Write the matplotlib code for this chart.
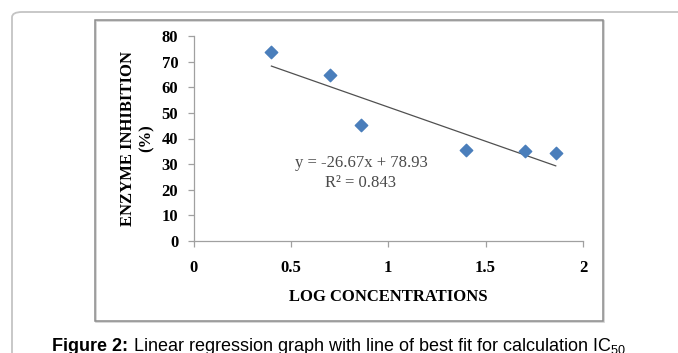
import numpy as np
import matplotlib.pyplot as plt
from matplotlib.patches import FancyBboxPatch, Rectangle

plt.rcParams['mathtext.fontset'] = 'custom'
plt.rcParams['mathtext.rm'] = 'Liberation Sans'

# data
log_conc = [0.40, 0.70, 0.86, 1.40, 1.70, 1.86]
inhibition = [73.6, 64.8, 45.4, 35.5, 35.1, 34.5]
slope = -26.67
intercept = 78.93
r2 = 0.843
x_ticks = [0, 0.5, 1, 1.5, 2]
x_tick_labels = ['0', '0.5', '1', '1.5', '2']
y_ticks = [0, 10, 20, 30, 40, 50, 60, 70, 80]

W, H = 678, 353
fig = plt.figure(figsize=(W / 100, H / 100), dpi=100)

# outer rounded frame of the page
frame = FancyBboxPatch((12 / W, -0.2), 1.2, (H - 12) / H + 0.2,
                       boxstyle='round,pad=0,rounding_size=0.015',
                       transform=fig.transFigure, fill=False,
                       edgecolor='#c4c4c4', linewidth=1.3)
fig.patches.append(frame)

# inner chart box (with a faint shadow line)
shadow = Rectangle((96 / W, (H - 322) / H), (603 - 95) / W, (321 - 20) / H,
                   transform=fig.transFigure, fill=False,
                   edgecolor='#d0d0d0', linewidth=1.2)
fig.patches.append(shadow)
box = Rectangle((95 / W, (H - 321) / H), (603 - 95) / W, (321 - 20) / H,
                transform=fig.transFigure, fill=False,
                edgecolor='#8c8c8c', linewidth=1.1)
fig.patches.append(box)

ax = fig.add_axes([193.5 / W, 112 / H, (583 - 193.5) / W, (241 - 36) / H])
ax.patch.set_alpha(0)

ax.scatter(log_conc, inhibition, marker='D', s=40, color='#4a7ebb', zorder=3)

xs = np.array([min(log_conc), max(log_conc)])
ax.plot(xs, slope * xs + intercept, color='#505050', linewidth=0.9)

ax.set_xlim(0, 2)
ax.set_ylim(0, 80)
ax.set_xticks(x_ticks)
ax.set_xticklabels(x_tick_labels)
ax.set_yticks(y_ticks)

for s in ['top', 'right']:
    ax.spines[s].set_visible(False)
for s in ['left', 'bottom']:
    ax.spines[s].set_color('#a0a0a0')
    ax.spines[s].set_linewidth(0.9)

ax.tick_params(axis='both', direction='out', length=4, width=0.9, color='#a0a0a0')
ax.tick_params(axis='x', pad=10)
ax.tick_params(axis='y', pad=7)
for lbl in ax.get_xticklabels() + ax.get_yticklabels():
    lbl.set_fontfamily('Liberation Serif')
    lbl.set_fontweight('bold')
    lbl.set_fontsize(12)

ax.set_xlabel('LOG CONCENTRATIONS', family='Liberation Serif', fontweight='bold',
              fontsize=12, labelpad=9)
ax.set_ylabel('ENZYME INHIBITION\n(%)', family='Liberation Serif', fontweight='bold',
              fontsize=12, labelpad=5, linespacing=1.2)

ax.text(0.86, 30.4, 'y = -26.67x + 78.93', family='Liberation Serif', fontsize=12,
        color='#4a4a4a', ha='center', va='center')
ax.text(0.86, 22.6, 'R\u00b2 = ' + str(r2), family='Liberation Serif', fontsize=12,
        color='#4a4a4a', ha='center', va='center')

# caption: bold lead-in followed by regular text
cap_y = (H - 351) / H
t1 = fig.text(52 / W, cap_y, 'Figure 2:', fontsize=13, family='Liberation Sans',
              fontweight='bold', va='baseline', ha='left')
fig.canvas.draw()
bb = t1.get_window_extent()
fig.text((bb.x1 + 5) / W, cap_y,
         'Linear regression graph with line of best fit for calculation IC$_{50}$',
         fontsize=13, family='Liberation Sans', va='baseline', ha='left')

fig.savefig('out.png', dpi=100)
